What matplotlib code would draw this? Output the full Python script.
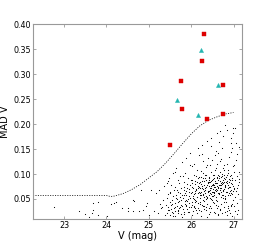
import matplotlib
matplotlib.use("Agg")
import matplotlib.pyplot as plt

# dashed detection-limit curve
curve_v = [22.27, 23.0, 23.5, 24.0, 24.1, 24.2, 24.4, 24.6, 24.8, 25.0, 25.2,
           25.4, 25.6, 25.8, 26.0, 26.2, 26.4, 26.6, 26.8, 27.0]
curve_mad = [0.057, 0.057, 0.057, 0.057, 0.055, 0.056, 0.061, 0.069, 0.079, 0.092, 0.105,
             0.122, 0.141, 0.161, 0.180, 0.196, 0.207, 0.214, 0.220, 0.223]

# variable candidates
red_v = [26.31, 26.25, 25.76, 26.76, 25.79, 26.37, 26.76, 25.49]
red_mad = [0.381, 0.326, 0.287, 0.279, 0.231, 0.211, 0.221, 0.159]
cyan_v = [26.23, 26.64, 25.67, 26.17]
cyan_mad = [0.348, 0.279, 0.249, 0.218]

# all other stars, read bin by bin off the picture
field_v = [
    22.77, 23.36, 23.49, 23.60, 23.66, 23.68, 23.69, 23.81, 23.80, 24.02,
    24.11, 24.22, 24.38, 24.50, 24.50, 24.63, 24.66, 24.19, 24.62, 24.82,
    24.78, 24.97, 24.93, 25.17, 25.25, 25.05, 25.37, 25.33, 25.41, 25.49,
    25.45, 25.29, 25.13, 25.01, 24.86,
    25.42, 25.44, 25.46, 25.47, 25.49, 25.50, 25.51, 25.52, 25.53, 25.55,
    25.56, 25.57, 25.58, 25.59, 25.60, 25.43, 25.48, 25.54, 25.58, 25.45,
    25.61, 25.62, 25.63, 25.64, 25.65, 25.66, 25.67, 25.68, 25.69, 25.70,
    25.71, 25.72, 25.73, 25.74, 25.75, 25.76, 25.77, 25.78, 25.79, 25.80,
    25.62, 25.64, 25.66, 25.68, 25.70, 25.72, 25.74, 25.76, 25.78, 25.63,
    25.81, 25.82, 25.83, 25.84, 25.85, 25.86, 25.87, 25.88, 25.89, 25.90,
    25.91, 25.92, 25.93, 25.94, 25.95, 25.96, 25.97, 25.98, 25.99, 26.00,
    25.81, 25.83, 25.85, 25.87, 25.89, 25.91, 25.93, 25.95, 25.97, 25.99,
    25.82, 25.86, 25.90, 25.94, 25.98,
    26.01, 26.02, 26.03, 26.04, 26.05, 26.06, 26.07, 26.08, 26.09, 26.10,
    26.11, 26.12, 26.13, 26.14, 26.15, 26.16, 26.17, 26.18, 26.19, 26.20,
    26.01, 26.03, 26.05, 26.07, 26.09, 26.11, 26.13, 26.15, 26.17, 26.19,
    26.02, 26.04, 26.06, 26.08, 26.10, 26.12, 26.14, 26.16, 26.18, 26.20,
    26.03, 26.07, 26.11, 26.15, 26.19,
    26.21, 26.22, 26.23, 26.24, 26.25, 26.26, 26.27, 26.28, 26.29, 26.30,
    26.31, 26.32, 26.33, 26.34, 26.35, 26.36, 26.37, 26.38, 26.39, 26.40,
    26.21, 26.23, 26.25, 26.27, 26.29, 26.31, 26.33, 26.35, 26.37, 26.39,
    26.22, 26.24, 26.26, 26.28, 26.30, 26.32, 26.34, 26.36, 26.38, 26.40,
    26.215, 26.235, 26.255, 26.275, 26.295, 26.315, 26.335, 26.355, 26.375, 26.395,
    26.225, 26.265, 26.305, 26.345, 26.385,
    26.41, 26.42, 26.43, 26.44, 26.45, 26.46, 26.47, 26.48, 26.49, 26.50,
    26.51, 26.52, 26.53, 26.54, 26.55, 26.56, 26.57, 26.58, 26.59, 26.60,
    26.41, 26.43, 26.45, 26.47, 26.49, 26.51, 26.53, 26.55, 26.57, 26.59,
    26.42, 26.44, 26.46, 26.48, 26.50, 26.52, 26.54, 26.56, 26.58, 26.60,
    26.415, 26.435, 26.455, 26.475, 26.495, 26.515, 26.535, 26.555, 26.575, 26.595,
    26.425, 26.445, 26.465, 26.485, 26.505, 26.525, 26.545, 26.565, 26.585, 26.605,
    26.44, 26.48, 26.52, 26.56, 26.60,
    26.61, 26.62, 26.63, 26.64, 26.65, 26.66, 26.67, 26.68, 26.69, 26.70,
    26.71, 26.72, 26.73, 26.74, 26.75, 26.76, 26.77, 26.78, 26.79, 26.80,
    26.61, 26.63, 26.65, 26.67, 26.69, 26.71, 26.73, 26.75, 26.77, 26.79,
    26.62, 26.64, 26.66, 26.68, 26.70, 26.72, 26.74, 26.76, 26.78, 26.80,
    26.615, 26.635, 26.655, 26.675, 26.695, 26.715, 26.735, 26.755, 26.775, 26.795,
    26.625, 26.645, 26.665, 26.685, 26.705, 26.725, 26.745, 26.765, 26.785, 26.805,
    26.63, 26.67, 26.71, 26.75, 26.79,
    26.81, 26.82, 26.83, 26.84, 26.85, 26.86, 26.87, 26.88, 26.89, 26.90,
    26.91, 26.92, 26.93, 26.94, 26.95, 26.96, 26.97, 26.98, 26.99, 27.00,
    26.81, 26.83, 26.85, 26.87, 26.89, 26.91, 26.93, 26.95, 26.97, 26.99,
    26.82, 26.84, 26.86, 26.88, 26.90, 26.92, 26.94, 26.96, 26.98, 27.00,
    26.815, 26.835, 26.855, 26.875, 26.895, 26.915, 26.935, 26.955, 26.975, 26.995,
    26.84, 26.88, 26.92, 26.96, 26.98,
    27.01, 27.02, 27.03, 27.04, 27.05, 27.06, 27.07, 27.08, 27.09, 27.10,
    27.11, 27.12, 27.13, 27.02, 27.04, 27.06, 27.08, 27.10, 27.12, 27.14,
    25.22, 25.31, 25.38, 25.46, 25.52, 25.61, 25.69, 25.74, 25.83, 25.88,
    25.95, 26.02, 26.09, 26.14, 26.23, 26.28, 26.34, 26.41, 26.47, 26.53,
    26.58, 26.64, 26.69, 26.73, 26.78, 26.84, 26.89, 26.93, 26.97, 27.04,
    25.27, 25.57, 25.79, 26.06, 26.19, 26.37, 26.62, 26.81, 26.95, 27.09,
]
field_mad = [
    0.033, 0.026, 0.019, 0.013, 0.022, 0.027, 0.041, 0.044, 0.017, 0.015,
    0.039, 0.043, 0.031, 0.031, 0.025, 0.025, 0.046, 0.041, 0.048, 0.068,
    0.025, 0.041, 0.035, 0.061, 0.068, 0.068, 0.075, 0.048, 0.038, 0.061,
    0.085, 0.031, 0.025, 0.018, 0.028,
    0.022, 0.051, 0.034, 0.091, 0.018, 0.044, 0.063, 0.029, 0.077, 0.039,
    0.024, 0.055, 0.102, 0.031, 0.068, 0.082, 0.027, 0.047, 0.016, 0.059,
    0.041, 0.073, 0.026, 0.058, 0.112, 0.035, 0.049, 0.087, 0.021, 0.064,
    0.046, 0.031, 0.095, 0.054, 0.019, 0.071, 0.038, 0.124, 0.057, 0.029,
    0.033, 0.052, 0.067, 0.043, 0.028, 0.081, 0.061, 0.047, 0.036, 0.105,
    0.052, 0.068, 0.024, 0.083, 0.045, 0.061, 0.037, 0.132, 0.058, 0.072,
    0.029, 0.049, 0.091, 0.064, 0.041, 0.055, 0.118, 0.077, 0.033, 0.062,
    0.095, 0.057, 0.039, 0.066, 0.048, 0.079, 0.023, 0.069, 0.051, 0.087,
    0.074, 0.102, 0.045, 0.034, 0.143,
    0.063, 0.044, 0.081, 0.056, 0.072, 0.035, 0.097, 0.061, 0.048, 0.085,
    0.069, 0.027, 0.109, 0.053, 0.076, 0.042, 0.091, 0.064, 0.138, 0.058,
    0.037, 0.074, 0.052, 0.121, 0.066, 0.046, 0.083, 0.031, 0.071, 0.094,
    0.088, 0.026, 0.059, 0.079, 0.043, 0.067, 0.054, 0.152, 0.082, 0.039,
    0.117, 0.049, 0.096, 0.062, 0.073,
    0.071, 0.052, 0.094, 0.063, 0.038, 0.085, 0.057, 0.126, 0.069, 0.045,
    0.078, 0.061, 0.099, 0.034, 0.073, 0.088, 0.054, 0.167, 0.066, 0.081,
    0.043, 0.107, 0.075, 0.059, 0.092, 0.029, 0.068, 0.115, 0.051, 0.084,
    0.062, 0.079, 0.141, 0.047, 0.086, 0.072, 0.056, 0.098, 0.039, 0.064,
    0.083, 0.058, 0.071, 0.102, 0.036, 0.065, 0.091, 0.049, 0.077, 0.133,
    0.025, 0.158, 0.053, 0.074, 0.118,
    0.076, 0.058, 0.092, 0.067, 0.084, 0.049, 0.105, 0.071, 0.063, 0.088,
    0.055, 0.079, 0.097, 0.061, 0.073, 0.139, 0.068, 0.082, 0.047, 0.094,
    0.065, 0.087, 0.052, 0.172, 0.078, 0.069, 0.041, 0.091, 0.074, 0.112,
    0.083, 0.036, 0.071, 0.059, 0.128, 0.077, 0.064, 0.086, 0.053, 0.068,
    0.093, 0.062, 0.119, 0.075, 0.048, 0.089, 0.057, 0.081, 0.146, 0.066,
    0.031, 0.072, 0.085, 0.056, 0.099, 0.063, 0.078, 0.109, 0.069, 0.182,
    0.024, 0.157, 0.044, 0.021, 0.121,
    0.082, 0.067, 0.098, 0.074, 0.059, 0.091, 0.078, 0.186, 0.086, 0.071,
    0.063, 0.095, 0.079, 0.052, 0.087, 0.113, 0.069, 0.084, 0.199, 0.076,
    0.092, 0.061, 0.077, 0.104, 0.068, 0.131, 0.083, 0.057, 0.097, 0.073,
    0.046, 0.088, 0.164, 0.072, 0.093, 0.058, 0.081, 0.067, 0.119, 0.089,
    0.075, 0.142, 0.062, 0.085, 0.054, 0.078, 0.101, 0.066, 0.091, 0.049,
    0.035, 0.071, 0.096, 0.028, 0.082, 0.153, 0.065, 0.043, 0.108, 0.074,
    0.019, 0.126, 0.039, 0.176, 0.055,
    0.078, 0.094, 0.063, 0.188, 0.085, 0.071, 0.102, 0.057, 0.089, 0.135,
    0.074, 0.066, 0.097, 0.081, 0.163, 0.059, 0.092, 0.076, 0.117, 0.069,
    0.051, 0.083, 0.098, 0.072, 0.061, 0.087, 0.145, 0.068, 0.079, 0.193,
    0.093, 0.064, 0.077, 0.109, 0.084, 0.058, 0.172, 0.091, 0.066, 0.104,
    0.043, 0.082, 0.121, 0.036, 0.074, 0.095, 0.062, 0.153, 0.088, 0.047,
    0.026, 0.031, 0.022, 0.039, 0.183,
    0.072, 0.118, 0.054, 0.087, 0.163, 0.066, 0.096, 0.041, 0.141, 0.078,
    0.059, 0.105, 0.083, 0.035, 0.192, 0.128, 0.071, 0.028, 0.089, 0.154,
    0.021, 0.034, 0.017, 0.028, 0.038, 0.015, 0.026, 0.033, 0.019, 0.036,
    0.024, 0.018, 0.031, 0.022, 0.016, 0.035, 0.027, 0.019, 0.032, 0.024,
    0.037, 0.017, 0.029, 0.021, 0.034, 0.018, 0.027, 0.038, 0.016, 0.025,
    0.039, 0.022, 0.013, 0.033, 0.027, 0.014, 0.031, 0.023, 0.035, 0.019,
]

x_ticks = [23, 24, 25, 26, 27]
y_ticks = [0.05, 0.10, 0.15, 0.20, 0.25, 0.30, 0.35, 0.40]

fig = plt.figure(figsize=(2.69, 2.44), dpi=100)
ax = fig.add_axes([0.1227, 0.1025, 0.777, 0.799])

ax.plot(field_v, field_mad, "s", color="#111111", ms=0.75, mew=0, ls="none")
ax.plot(curve_v, curve_mad, color="black", lw=0.55, dashes=(1.4, 1.8))
ax.plot(red_v, red_mad, "s", color="#dd0000", ms=2.8, mec="#dd0000", mew=0.3)
ax.plot(cyan_v, cyan_mad, "^", color="#22b5b0", ms=3.0, mec="#22b5b0", mew=0.3)

ax.set_xlim(22.27, 27.2)
ax.set_ylim(0.01, 0.40)
ax.set_xticks(x_ticks)
ax.set_yticks(y_ticks)
ax.set_yticklabels([f"{t:.2f}" for t in y_ticks])
ax.tick_params(direction="in", length=2.5, width=0.6, color="#999999",
               labelsize=5.8, pad=1.5, top=True, right=True)
for sp in ax.spines.values():
    sp.set_color("#999999")
    sp.set_linewidth(0.8)

ax.set_xlabel("V (mag)", fontsize=7, labelpad=1)
ax.set_ylabel("MAD V", fontsize=7)
ax.yaxis.set_label_coords(-0.112, 0.5)

fig.savefig("out.png", dpi=100)
